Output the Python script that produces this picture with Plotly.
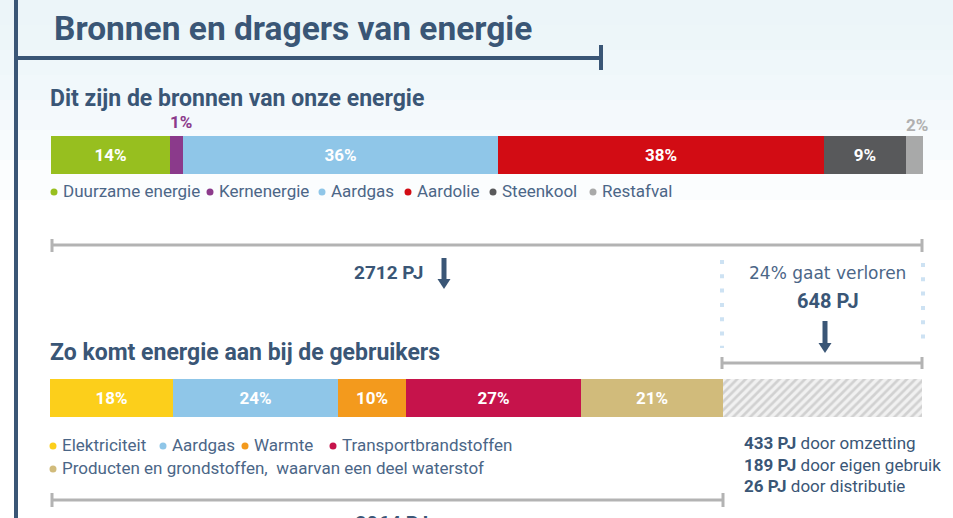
import plotly.graph_objects as go

W, H = 953, 518
def X(p): return p / W
def Y(p): return 1 - p / H

# ---------------- data ----------------
top_names = ["Duurzame energie", "Kernenergie", "Aardgas", "Aardolie", "Steenkool", "Restafval"]
top_share = [13.6, 1.5, 36.2, 37.4, 9.4, 1.9]          # share of bar width (%)
top_labels = ["14%", "1%", "36%", "38%", "9%", "2%"]
top_colors = ["#97bf1f", "#8b3a8b", "#8fc6e8", "#d20c14", "#58595b", "#a8a9a9"]

bot_names = ["Elektriciteit", "Aardgas", "Warmte", "Transportbrandstoffen",
             "Producten en grondstoffen,  waarvan een deel waterstof", "Verlies"]
bot_share = [14.1, 18.9, 7.8, 20.1, 16.3, 22.8]        # share of bar width (%)
bot_labels = ["18%", "24%", "10%", "27%", "21%", ""]
bot_colors = ["#fccf1b", "#8fc6e8", "#f39a1d", "#c6134b", "#d1bb7b", "#f1f1f1"]

total_in = "2712 PJ"
total_out = "2064 PJ"
loss_pct = "24% gaat verloren"
loss_total = "648 PJ"
loss_pj = ["433 PJ", "189 PJ", "26 PJ"]
loss_why = ["door omzetting", "door eigen gebruik", "door distributie"]

NAVY = "#3a5676"
TXT = "#4b6687"
GREY = "#b3b3b3"
FONT = "Roboto"

fig = go.Figure()

for n, v, lab, c in zip(top_names, top_share, top_labels, top_colors):
    fig.add_trace(go.Bar(
        x=[v], y=[0], orientation="h", width=1, name=n,
        marker=dict(color=c, line=dict(width=0)),
        text=[lab if v > 5 else ""], textposition="inside", insidetextanchor="middle",
        textfont=dict(color="white", size=17, family=FONT, weight="bold"),
        xaxis="x", yaxis="y", showlegend=False, hoverinfo="skip"))

for n, v, lab, c in zip(bot_names, bot_share, bot_labels, bot_colors):
    if n == "Verlies":
        mk = dict(color=c, line=dict(width=0),
                  pattern=dict(shape="/", fgcolor="#b2b2b2", bgcolor=c, size=6, solidity=0.45))
    else:
        mk = dict(color=c, line=dict(width=0))
    fig.add_trace(go.Bar(
        x=[v], y=[0], orientation="h", width=1, name=n, marker=mk,
        text=[lab], textposition="inside", insidetextanchor="middle",
        textfont=dict(color="white", size=17, family=FONT, weight="bold"),
        xaxis="x2", yaxis="y2", showlegend=False, hoverinfo="skip"))

shapes = []
# background gradient (light blue at top fading to white)
for k in [25, 50, 75, 100, 130, 160, 200]:
    shapes.append(dict(type="rect", xref="paper", yref="paper", x0=0, x1=1, y0=Y(k), y1=1,
                       fillcolor="#e9f1f9", opacity=0.16, line=dict(width=0), layer="below"))

def line(x0, y0, x1, y1, color, width, dash=None):
    d = dict(type="line", xref="paper", yref="paper", x0=X(x0), y0=Y(y0), x1=X(x1), y1=Y(y1),
             line=dict(color=color, width=width))
    if dash:
        d["line"]["dash"] = dash
    shapes.append(d)

def arrow(x, y0, y1, color=NAVY):
    line(x, y0, x, y1 - 8, color, 5)
    path = f"M {X(x-6.5)} {Y(y1-10)} L {X(x+6.5)} {Y(y1-10)} L {X(x)} {Y(y1)} Z"
    shapes.append(dict(type="path", xref="paper", yref="paper", path=path,
                       fillcolor=color, line=dict(width=0)))

# header frame
line(16, 0, 16, 518, NAVY, 4)
line(16, 58, 601, 58, NAVY, 4)
line(601, 45, 601, 70, NAVY, 4)

# bracket under top bar
line(51, 245, 922, 245, GREY, 3)
line(52, 239, 52, 252, GREY, 3)
line(922, 239, 922, 252, GREY, 3)
arrow(444, 258, 289)

# loss box
line(722, 260, 722, 348, "#cde2f3", 4, dash="4px,10.3px")
line(923, 263, 923, 348, "#cde2f3", 4, dash="4px,10.3px")
arrow(825, 321, 353)
line(722, 363, 922, 363, GREY, 3)
line(722, 357, 722, 369, GREY, 3)
line(922, 357, 922, 369, GREY, 3)

# bracket under bottom bar
line(51, 500, 723, 500, GREY, 3)
line(52, 493, 52, 507, GREY, 3)
line(723, 493, 723, 507, GREY, 3)

# legend dots
top_leg_x = [54, 210, 322, 408, 493, 593]
for xx, c in zip(top_leg_x, top_colors):
    shapes.append(dict(type="circle", xref="paper", yref="paper",
                       x0=X(xx - 3.5), x1=X(xx + 3.5), y0=Y(195.5), y1=Y(188.5),
                       fillcolor=c, line=dict(width=0)))
bot_leg = [(53, 446), (163, 446), (245, 446), (333, 446), (53, 469)]
for (xx, yy), c in zip(bot_leg, bot_colors[:5]):
    shapes.append(dict(type="circle", xref="paper", yref="paper",
                       x0=X(xx - 3.5), x1=X(xx + 3.5), y0=Y(yy + 3.5), y1=Y(yy - 3.5),
                       fillcolor=c, line=dict(width=0)))

ann = []
def text(x, y, s, size, color=NAVY, bold=False, anchor="left", family=FONT):
    ann.append(dict(xref="paper", yref="paper", x=X(x), y=Y(y), text=s, showarrow=False,
                    xanchor=anchor, yanchor="middle",
                    font=dict(family=family, size=size, color=color,
                              weight="bold" if bold else "normal")))

text(52, 28, "Bronnen en dragers van energie", 33.5, bold=True)
text(48, 99, "Dit zijn de bronnen van onze energie", 23, bold=True)
text(48, 352, "Zo komt energie aan bij de gebruikers", 23, bold=True)

text(181, 122, top_labels[1], 17, color=top_colors[1], bold=True, anchor="center")
text(917, 125, top_labels[5], 17, color="#b0b0b0", bold=True, anchor="center")

for xx, n in zip(top_leg_x, top_names):
    text(xx + 7, 191, n, 17, color=TXT)
for (xx, yy), n in zip(bot_leg, bot_names[:5]):
    text(xx + 7, yy - 1, n, 17, color=TXT)

text(388, 272, total_in, 19, bold=True, anchor="center")
text(827, 273, loss_pct, 17, color=TXT, anchor="center", family="DejaVu Sans")
text(828, 301, loss_total, 20, bold=True, anchor="center")

for i, (a, b) in enumerate(zip(loss_pj, loss_why)):
    ann.append(dict(xref="paper", yref="paper", x=X(742), y=Y(443 + i * 21.5),
                    text=f"<b>{a}</b> {b}", showarrow=False, xanchor="left", yanchor="middle",
                    font=dict(family=FONT, size=17, color=NAVY)))

# total delivered, cut off by the bottom edge as in the reference
text(391, 524, total_out, 20, bold=True, anchor="center")

fig.update_layout(
    width=W, height=H, margin=dict(l=0, r=0, t=0, b=0),
    paper_bgcolor="white", plot_bgcolor="rgba(0,0,0,0)",
    barmode="stack", bargap=0,
    xaxis=dict(domain=[X(51), X(923)], range=[0, 100], visible=False, fixedrange=True),
    yaxis=dict(domain=[Y(174), Y(136)], range=[-0.5, 0.5], visible=False, fixedrange=True),
    xaxis2=dict(domain=[X(50), X(922)], range=[0, 100], visible=False, fixedrange=True, anchor="y2"),
    yaxis2=dict(domain=[Y(417), Y(379)], range=[-0.5, 0.5], visible=False, fixedrange=True, anchor="x2"),
    shapes=shapes, annotations=ann, showlegend=False,
    font=dict(family=FONT),
)

fig.write_html("out.html", config={"displayModeBar": False},
               post_script="document.body.style.margin='0';document.body.style.overflow='hidden';")
